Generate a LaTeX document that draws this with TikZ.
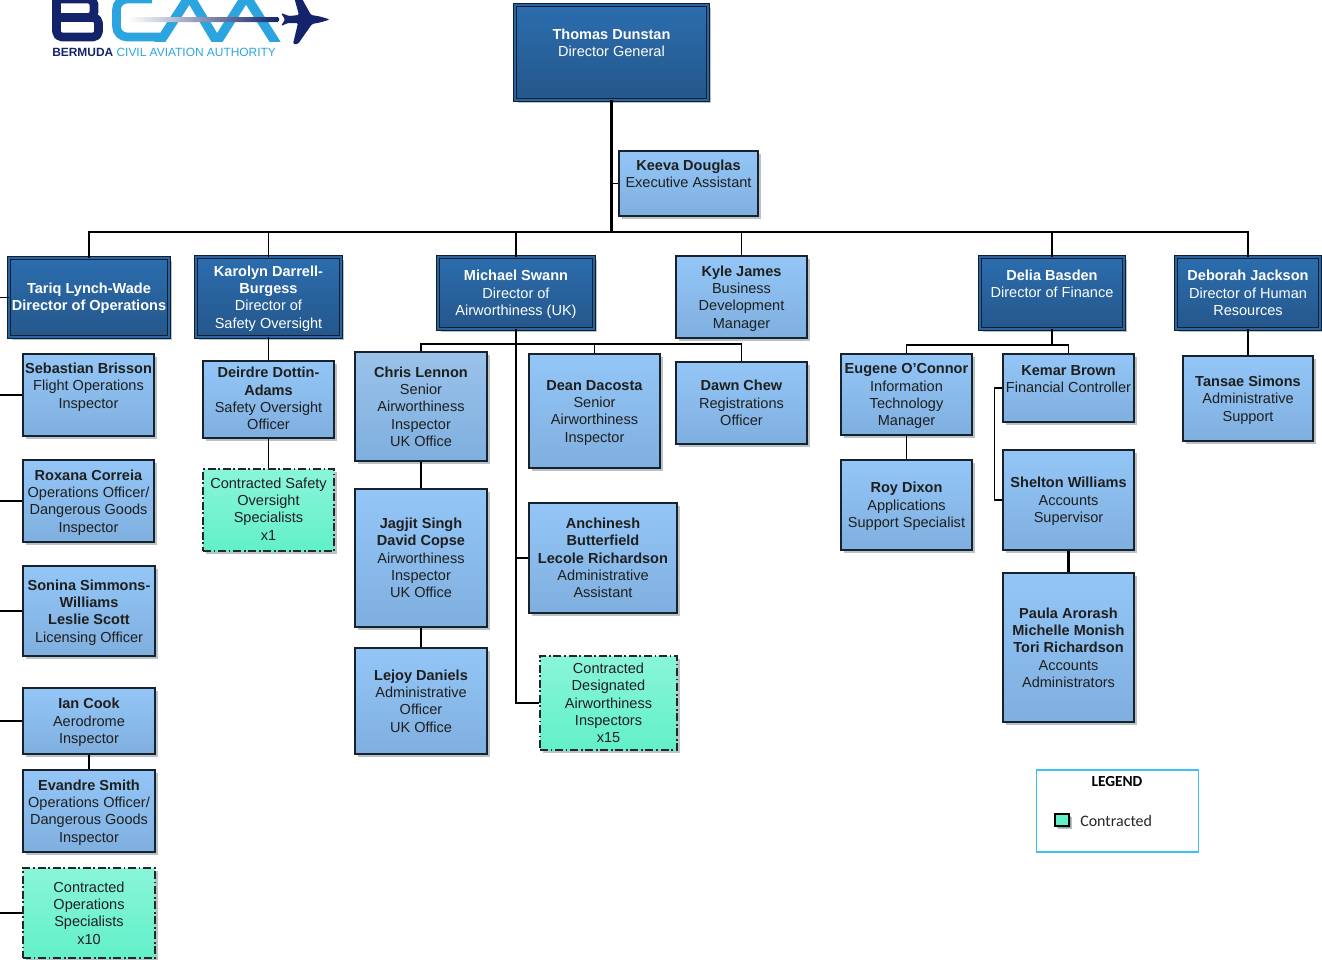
\documentclass[tikz,border=0pt]{standalone}
\usepackage{fontspec}
\setmainfont{Liberation Sans}
\newfontfamily\legendfont{Carlito}
\usetikzlibrary{shadows}
\definecolor{navy}{HTML}{13246B}
\definecolor{sky}{HTML}{2BA4DF}
\definecolor{edge}{HTML}{17222E}
\definecolor{shade}{HTML}{6F878C}
\definecolor{BoxTop}{HTML}{93C6F7}
\definecolor{BoxBot}{HTML}{7FAFDF}
\definecolor{BoxPale}{HTML}{9AC2EA}
\definecolor{HeadTop}{HTML}{2B6DAE}
\definecolor{HeadBot}{HTML}{25578B}
\definecolor{HeadMid}{HTML}{2A659F}
\definecolor{HeadLine}{HTML}{0E1E33}
\definecolor{HiredTop}{HTML}{8AF5D9}
\definecolor{HiredBot}{HTML}{62F0C9}
\tikzset{
  box/.style={rectangle,inner sep=0pt,line width=.9pt,draw=edge,text=black!88,
    drop shadow={shadow xshift=2.6pt,shadow yshift=-2.6pt,fill=shade,opacity=.5}},
  staff/.style={box,top color=#1,bottom color=BoxBot},
  staff/.default={BoxTop},
  lead/.style={box,top color=HeadTop,bottom color=HeadBot,text=white,draw=HeadLine,
    line width=.7pt,double=HeadMid,double distance=1.7pt},
  hired/.style={box,top color=HiredTop,bottom color=HiredBot,draw=black!85,
    dash pattern=on 6pt off 2pt on 1.3pt off 2pt},
  wire/.style={draw=black,line width=1.25pt},
  spine/.style={draw=black,line width=1.6pt}
}
\newcommand\nm[1]{\textbf{#1}}
% name, style, x1, y1, x2, y2, raise, lines
\newcommand\bx[8]{%
  \node[#2,minimum width={(#5-#3)*0.75pt},minimum height={(#6-#4)*0.75pt}] (#1)
    at ({(#3+#5)/2},{(#4+#6)/2})
    {\raisebox{\dimexpr(#7pt-5.5pt)*3/4\relax}[0pt][0pt]{\makebox[0pt]{\fontsize{10.9}{13}\selectfont
      \begin{tabular}{@{}c@{}}#8\end{tabular}}}};}
\begin{document}
\begin{tikzpicture}[x=0.75pt,y=-0.75pt]
\useasboundingbox (0,0) rectangle (1322,960);
\coordinate (leftedge) at (0,0);
% logo
\begin{scope}
\clip (40,0) rectangle (335,41);
\draw[navy,line width=6.5pt,line join=round,rounded corners=4pt]
  (56.5,-6) -- (56.5,37) -- (98.5,37) -- (98.5,17.5) -- (60,17.5);
\draw[navy,line width=6.5pt,rounded corners=4pt] (60,17.5) -- (94,17.5) -- (94,-1) -- (56.5,-1);
\draw[sky,line width=6.5pt,rounded corners=8pt] (152,-1) -- (116.5,-1) -- (116.5,37) -- (160,37);
\draw[sky,line width=7pt,line join=miter]
  (156,48) -- (189.5,-4) -- (217,42) -- (246,-4) -- (279,48);
\end{scope}
\begin{scope}
\clip (270,0) rectangle (335,50);
\fill[navy,rounded corners=1pt] (330,19.5) -- (320,16.5) -- (311,15) -- (301,-3) -- (294,-3)
  -- (299,15) -- (289,16) -- (281,13) -- (285,19.5) -- (281,26) -- (288,23) -- (298,23)
  -- (293,44) -- (298,44) -- (312,24) -- (320,22.5) -- cycle;
\end{scope}
\path[left color=white,middle color=sky,right color=navy,rounded corners=1pt]
  (128,17) rectangle (279,22);
\node[anchor=west,inner sep=0pt,font=\fontsize{8.95}{11}\selectfont] (logotext) at (52,52)
  {\textcolor{navy}{\textbf{BERMUDA}} \textcolor{sky}{CIVIL AVIATION AUTHORITY}};
% top
\bx{thomas}{lead}{515}{5}{708}{100}{9.5}{\nm{Thomas Dunstan}\\Director General}
\bx{keeva}{staff}{619}{151}{758}{216}{10}{\nm{Keeva Douglas}\\Executive Assistant}
% directors
\bx{tariq}{lead}{9}{258}{169}{337}{1}{\nm{Tariq Lynch-Wade}\\\nm{Director of Operations}}
\bx{karolyn}{lead}{196}{257}{341}{337}{0}{\nm{Karolyn Darrell-}\\\nm{Burgess}\\Director of\\Safety Oversight}
\bx{michael}{lead}{438}{257}{594}{329}{0}{\nm{Michael Swann}\\Director of\\Airworthiness (UK)}
\bx{kyle}{staff}{676}{256}{807}{338}{0}{\nm{Kyle James}\\Business\\Development\\Manager}
\bx{delia}{lead}{980}{257}{1124}{329}{9.5}{\nm{Delia Basden}\\Director of Finance}
\bx{deborah}{lead}{1176}{257}{1320}{329}{0}{\nm{Deborah Jackson}\\Director of Human\\Resources}
% operations
\bx{sebastian}{staff}{23}{354}{154}{436}{9.5}{\nm{Sebastian Brisson}\\Flight Operations\\Inspector}
\bx{roxana}{staff}{23}{460}{154}{542}{0}{\nm{Roxana Correia}\\Operations Officer/\\Dangerous Goods\\Inspector}
\bx{sonina}{staff}{23}{566}{155}{656}{0}{\nm{Sonina Simmons-}\\\nm{Williams}\\\nm{Leslie Scott}\\Licensing Officer}
\bx{ian}{staff}{23}{688}{155}{754}{0}{\nm{Ian Cook}\\Aerodrome\\Inspector}
\bx{evandre}{staff}{23}{770}{155}{852}{0}{\nm{Evandre Smith}\\Operations Officer/\\Dangerous Goods\\Inspector}
\bx{opscon}{hired}{23}{868}{155}{958}{0}{Contracted\\Operations\\Specialists\\x10}
% safety
\bx{deirdre}{staff}{203}{361}{334}{438}{1}{\nm{Deirdre Dottin-}\\\nm{Adams}\\Safety Oversight\\Officer}
\bx{safecon}{hired}{203}{469}{334}{551}{1}{Contracted Safety\\Oversight\\Specialists\\x1}
% airworthiness
\bx{chris}{staff=BoxPale}{355}{352}{487}{461}{0}{\nm{Chris Lennon}\\Senior\\Airworthiness\\Inspector\\UK Office}
\bx{jagjit}{staff}{355}{489}{487}{627}{0}{\nm{Jagjit Singh}\\\nm{David Copse}\\Airworthiness\\Inspector\\UK Office}
\bx{lejoy}{staff}{355}{648}{487}{754}{0}{\nm{Lejoy Daniels}\\Administrative\\Officer\\UK Office}
\bx{dean}{staff}{529}{354}{660}{468}{0}{\nm{Dean Dacosta}\\Senior\\Airworthiness\\Inspector}
\bx{anchinesh}{staff}{529}{503}{677}{613}{0}{\nm{Anchinesh}\\\nm{Butterfield}\\\nm{Lecole Richardson}\\Administrative\\Assistant}
\bx{aircon}{hired}{540}{656}{677}{750}{0}{Contracted\\Designated\\Airworthiness\\Inspectors\\x15}
\bx{dawn}{staff}{676}{362}{807}{444}{0}{\nm{Dawn Chew}\\Registrations\\Officer}
% finance
\bx{eugene}{staff}{841}{354}{972}{435}{0}{\nm{Eugene O’Connor}\\Information\\Technology\\Manager}
\bx{roy}{staff}{841}{460}{972}{550}{0}{\nm{Roy Dixon}\\Applications\\Support Specialist}
\bx{kemar}{staff}{1003}{354}{1134}{422}{9}{\nm{Kemar Brown}\\Financial Controller}
\bx{shelton}{staff}{1003}{450}{1134}{550}{0}{\nm{Shelton Williams}\\Accounts\\Supervisor}
\bx{paula}{staff}{1003}{573}{1134}{722}{0}{\nm{Paula Arorash}\\\nm{Michelle Monish}\\\nm{Tori Richardson}\\Accounts\\Administrators}
\bx{tansae}{staff}{1183}{356}{1313}{441}{0}{\nm{Tansae Simons}\\Administrative\\Support}
% free ends and buses
\coordinate (mainbus) at (611,232);
\coordinate (airbus) at (516,344);
\coordinate (finbus) at (1052,345);
% connectors
\draw[spine] (thomas.south) -- (thomas.south |- mainbus);
\draw[wire] (keeva.west) -- (keeva.west -| thomas.south);
\draw[wire] (tariq.north) |- (mainbus);
\draw[wire] (karolyn.north) |- (mainbus);
\draw[wire] (michael.north) |- (mainbus);
\draw[wire] (kyle.north) |- (mainbus);
\draw[wire] (delia.north) |- (mainbus);
\draw[wire] (deborah.north) |- (mainbus);
\foreach \n in {tariq,sebastian,roxana,sonina,ian,opscon}
  \draw[wire] (\n.west) -- (\n.west -| leftedge);
\draw[wire] (ian.south) -- (evandre.north);
\draw[wire] (karolyn.south) -- (deirdre.north);
\draw[wire] (deirdre.south) -- (safecon.north);
\draw[wire] (chris.north) |- (airbus);
\draw[wire] (dean.north) |- (airbus);
\draw[wire] (dawn.north) |- (airbus);
\draw[wire] (chris.south) -- (jagjit.north);
\draw[wire] (jagjit.south) -- (lejoy.north);
\draw[spine] (michael.south) |- (aircon.west);
\draw[wire] (anchinesh.west) -- (anchinesh.west -| michael.south);
\draw[wire] (delia.south) -- (finbus);
\draw[wire] (eugene.north) |- (finbus);
\draw[wire] (kemar.north) |- (finbus);
\draw[wire] (eugene.south) -- (roy.north);
\draw[wire] (kemar.west) -- ++(-8,0) |- (shelton.west);
\draw[spine] (shelton.south) -- (paula.north);
\draw[wire] (deborah.south) -- (tansae.north);
% legend
\node[rectangle,draw=cyan!75!white,line width=.9pt,minimum width=122pt,minimum height=61.5pt,inner sep=0pt] (legendbox) at (1117.5,811) {};
\node[font=\legendfont\bfseries\fontsize{11.5}{13}\selectfont,inner sep=0pt] (legendtitle) at (1117,782) {LEGEND};
\node[box,top color=HiredBot,bottom color=HiredBot,draw=black,minimum width=10.5pt,minimum height=9pt,
  drop shadow={shadow xshift=1.6pt,shadow yshift=-1.6pt,fill=shade,opacity=.55}] (swatch) at (1062,820) {};
\node[font=\legendfont\fontsize{12}{14}\selectfont,anchor=west,inner sep=0pt,text=black!85] (legendtext) at (1080,821) {Contracted};
\end{tikzpicture}
\end{document}
